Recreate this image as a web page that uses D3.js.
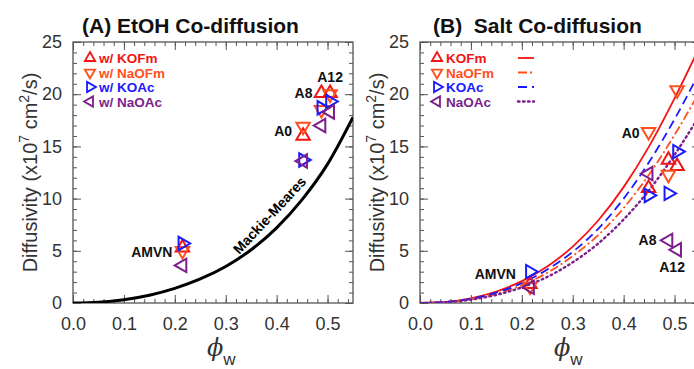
<!DOCTYPE html>
<html>
<head>
<meta charset="utf-8">
<script src="https://cdn.jsdelivr.net/npm/d3@7"></script>
<style>
  body { margin: 0; background: #fff; }
  svg { display: block; }
  text { font-family: "Liberation Sans", Arial, sans-serif; }
</style>
</head>
<body>
<svg id="chart" width="694" height="369"></svg>
<script>
// ---- data ----
const seriesNames = ['KOFm', 'NaOFm', 'KOAc', 'NaOAc'];
const sampleNames = ['AMVN', 'A0', 'A8', 'A12'];

// (A) EtOH co-diffusion, one value per sample
const phiA = [0.215, 0.452, 0.488, 0.505];
const etohKOFm = [5.3, 16.0, 20.1, 20.1];
const etohNaOFm = [5.0, 16.9, 18.5, 20.0];
const etohKOAc = [5.7, 13.7, 18.7, 19.3];
const etohNaOAc = [3.6, 13.6, 17.0, 18.3];

// (B) salt co-diffusion
const phiB = [0.216, 0.449, 0.488, 0.505];
const saltKOFm = [1.8, 11.0, 13.7, 13.1];
const saltNaOFm = [1.6, 16.4, 12.3, 20.4];
const saltKOAc = [3.0, 10.3, 10.5, 14.5];
const saltNaOAc = [1.5, 12.4, 6.0, 5.1];

// model curves sampled along phi
const phiGrid = [0, 0.05, 0.1, 0.15, 0.2, 0.25, 0.3, 0.35, 0.4, 0.45, 0.5, 0.55];
const mackieMeares = [0, 0.08, 0.32, 0.75, 1.4, 2.3, 3.5, 5.1, 7.2, 9.9, 13.3, 17.8];
const fitKOFm = [0, 0.1, 0.45, 1.1, 2.1, 3.5, 5.4, 7.9, 11.1, 15.0, 19.6, 24.6];
const fitNaOFm = [0, 0.09, 0.37, 0.9, 1.7, 2.9, 4.5, 6.5, 9.1, 12.3, 16.1, 20.3];
const fitKOAc = [0, 0.1, 0.4, 1.0, 1.9, 3.2, 4.9, 7.1, 10.0, 13.5, 17.6, 22.2];
const fitNaOAc = [0, 0.08, 0.32, 0.78, 1.5, 2.5, 3.9, 5.7, 8.0, 10.8, 14.2, 18.0];

const xMajor = [0, 0.1, 0.2, 0.3, 0.4, 0.5];
const yMajor = [0, 5, 10, 15, 20, 25];

// ---- styles ----
const colors = { KOFm: '#f21414', NaOFm: '#ff4f1c', KOAc: '#1a1aff', NaOAc: '#7c1f8c' };
const rotation = { KOFm: 0, NaOFm: 180, KOAc: 90, NaOAc: -90 };
const dashes = { KOFm: null, NaOFm: '9,3,2,3', KOAc: '9,5', NaOAc: '1.5,3.5' };

const svg = d3.select('#chart');
svg.append('rect').attr('width', 694).attr('height', 369).attr('fill', '#fff');

const W = 280, H = 261;
const x = d3.scaleLinear().domain([0, 0.55]).range([0, W]);
const y = d3.scaleLinear().domain([0, 25]).range([H, 0]);
const xMinor = d3.range(0, 0.551, 0.02).map(v => +v.toFixed(2));
const yMinor = d3.range(0, 26, 1);

const tri = d3.symbol().type(d3.symbolTriangle);

function frame(g) {
  const addAxis = (axis, tx) => {
    const a = g.append('g').attr('transform', tx).call(axis);
    a.select('.domain').remove();
    a.selectAll('line').attr('stroke', '#555').attr('stroke-width', 1);
    return a;
  };
  // minor ticks
  addAxis(d3.axisBottom(x).tickValues(xMinor).tickSize(-4).tickFormat(''), `translate(0,${H})`);
  addAxis(d3.axisTop(x).tickValues(xMinor).tickSize(-4).tickFormat(''), 'translate(0,0)');
  addAxis(d3.axisLeft(y).tickValues(yMinor).tickSize(-4).tickFormat(''), 'translate(0,0)');
  addAxis(d3.axisRight(y).tickValues(yMinor).tickSize(-4).tickFormat(''), `translate(${W},0)`);
  // major ticks
  const xb = addAxis(d3.axisBottom(x).tickValues(xMajor).tickSize(-8).tickPadding(14).tickFormat(d3.format('.1f')), `translate(0,${H})`);
  addAxis(d3.axisTop(x).tickValues(xMajor).tickSize(-8).tickFormat(''), 'translate(0,0)');
  const yl = addAxis(d3.axisLeft(y).tickValues(yMajor).tickSize(-8).tickPadding(11), 'translate(0,0)');
  addAxis(d3.axisRight(y).tickValues(yMajor).tickSize(-8).tickFormat(''), `translate(${W},0)`);
  [xb, yl].forEach(a => a.selectAll('text')
    .attr('font-size', 18).attr('fill', '#333')
    .style('font-family', '"Liberation Sans", Arial, sans-serif'));
  g.append('rect').attr('width', W).attr('height', H)
    .attr('fill', 'none').attr('stroke', '#555').attr('stroke-width', 1.3);
}

function axisTitles(g, labelX) {
  const yt = g.append('text')
    .attr('transform', `translate(${labelX},${H / 2}) rotate(-90)`)
    .attr('text-anchor', 'middle').attr('font-size', 20).attr('fill', '#333');
  yt.append('tspan').text('Diffusivity (x10');
  yt.append('tspan').attr('dy', -8).attr('font-size', 14).text('7');
  yt.append('tspan').attr('dy', 8).text(' cm');
  yt.append('tspan').attr('dy', -8).attr('font-size', 14).text('2');
  yt.append('tspan').attr('dy', 8).text('/s)');

  const xt = g.append('text').attr('x', W / 2 - 6).attr('y', H + 53)
    .attr('font-size', 24).attr('fill', '#333');
  xt.append('tspan').attr('font-style', 'italic').style('font-family', '"DejaVu Serif", serif').text('\u03D5');
  xt.append('tspan').attr('dy', 9).attr('font-size', 17).text('w');
}

function markers(g, phis, valuesBySeries) {
  seriesNames.forEach((s, si) => {
    g.selectAll(null).data(valuesBySeries[si]).enter().append('path')
      .attr('d', tri.size(78)())
      .attr('transform', (d, i) => `translate(${x(phis[i])},${y(d)}) rotate(${rotation[s]})`)
      .attr('fill', 'none').attr('stroke', colors[s]).attr('stroke-width', 2);
  });
}

function sampleLabels(g, items) {
  items.forEach(t => {
    g.append('text').attr('x', t.x).attr('y', t.y).attr('text-anchor', t.anchor)
      .attr('font-size', 14).attr('font-weight', 'bold').attr('fill', '#111').text(t.text);
  });
}

function legend(g, prefix, withLines) {
  const leg = g.append('g').attr('transform', 'translate(17,16)');
  seriesNames.forEach((s, i) => {
    const ly = i * 14.5;
    leg.append('path').attr('d', tri.size(46)())
      .attr('transform', `translate(0,${ly}) rotate(${rotation[s]})`)
      .attr('fill', 'none').attr('stroke', colors[s]).attr('stroke-width', 1.8);
    leg.append('text').attr('x', 9).attr('y', ly + 5).attr('font-size', 13.5)
      .attr('font-weight', 'bold').attr('fill', colors[s]).text(prefix + s);
    if (withLines) {
      leg.append('line').attr('x1', 81).attr('x2', 97).attr('y1', ly).attr('y2', ly)
        .attr('stroke', colors[s]).attr('stroke-width', s === 'NaOAc' ? 2.4 : 1.8)
        .attr('stroke-linecap', s === 'NaOAc' ? 'round' : 'butt')
        .attr('stroke-dasharray', dashes[s]);
    }
  });
}

const line = d3.line().x((d, i) => x(phiGrid[i])).y(d => y(d)).curve(d3.curveMonotoneX);

// ---------- Panel A ----------
const gA = svg.append('g').attr('transform', 'translate(73,42)');
gA.append('clipPath').attr('id', 'clipA').append('rect').attr('width', W).attr('height', H);
frame(gA);
axisTitles(gA, -36);
gA.append('text').attr('x', 9).attr('y', -9).attr('font-size', 21).attr('font-weight', 'bold')
  .attr('fill', '#111').text('(A) EtOH Co-diffusion');

gA.append('path').datum(mackieMeares).attr('clip-path', 'url(#clipA)')
  .attr('d', line).attr('fill', 'none').attr('stroke', '#000').attr('stroke-width', 3);
gA.append('text').attr('transform', `translate(${x(0.405) - 6},${y(7.6) - 5}) rotate(-47)`)
  .attr('text-anchor', 'middle').attr('font-size', 14).attr('font-weight', 'bold')
  .attr('fill', '#000').text('Mackie-Meares');

markers(gA, phiA, [etohKOFm, etohNaOFm, etohKOAc, etohNaOAc]);
sampleLabels(gA, [
  { text: 'AMVN', x: x(phiA[0]) - 10, y: y(etohKOFm[0]) + 9, anchor: 'end' },
  { text: 'A0', x: x(phiA[1]) - 11, y: y(16.5) + 5, anchor: 'end' },
  { text: 'A8', x: x(phiA[2]) - 9, y: y(etohKOFm[2]) + 5, anchor: 'end' },
  { text: 'A12', x: x(phiA[3]), y: y(etohKOFm[3]) - 11, anchor: 'middle' }
]);
legend(gA, 'w/ ', false);

// ---------- Panel B ----------
const gB = svg.append('g').attr('transform', 'translate(420,42)');
gB.append('clipPath').attr('id', 'clipB').append('rect').attr('width', W).attr('height', H);
frame(gB);
axisTitles(gB, -36);
gB.append('text').attr('x', 13).attr('y', -9).attr('font-size', 21).attr('font-weight', 'bold')
  .attr('fill', '#111').attr('xml:space', 'preserve').text('(B)  Salt Co-diffusion');

const fits = [fitKOFm, fitNaOFm, fitKOAc, fitNaOAc];
seriesNames.forEach((s, i) => {
  gB.append('path').datum(fits[i]).attr('clip-path', 'url(#clipB)')
    .attr('d', line).attr('fill', 'none').attr('stroke', colors[s])
    .attr('stroke-width', s === 'NaOAc' ? 2.4 : 1.8)
    .attr('stroke-linecap', s === 'NaOAc' ? 'round' : 'butt')
    .attr('stroke-dasharray', dashes[s]);
});

markers(gB, phiB, [saltKOFm, saltNaOFm, saltKOAc, saltNaOAc]);
sampleLabels(gB, [
  { text: 'AMVN', x: x(phiB[0]) - 14, y: y(saltKOAc[0]) + 7, anchor: 'end' },
  { text: 'A0', x: x(phiB[1]) - 9, y: y(saltNaOFm[1]) + 6, anchor: 'end' },
  { text: 'A8', x: x(phiB[2]) - 12, y: y(saltNaOAc[2]) + 5, anchor: 'end' },
  { text: 'A12', x: x(phiB[3]) - 5, y: y(saltNaOAc[3]) + 22, anchor: 'middle' }
]);
legend(gB, '', true);
</script>
</body>
</html>
